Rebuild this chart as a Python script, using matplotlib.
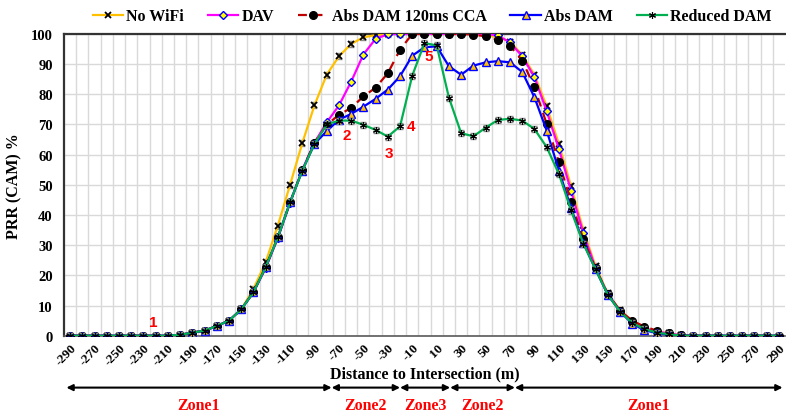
import numpy as np
import matplotlib.pyplot as plt
from matplotlib.ticker import FixedLocator

plt.rcParams['font.family'] = ['Liberation Serif', 'DejaVu Serif']

dist = list(range(-290, 300, 10))

tail_left = [0, 0, 0, 0, 0, 0, 0, 0, 0, 0.3, 1.0, 1.7, 3.2, 5.0, 8.7]

no_wifi = tail_left + [15.5, 24.3, 36.5, 50.0, 63.8, 76.4, 86.5, 92.6, 96.7, 98.9, 99.6,
                       100, 100, 100, 100, 100, 100, 100, 100, 99.5, 99.0, 97.5, 93.0,
                       86.5, 76.0, 63.5, 49.5, 35.0, 23.0, 14.0, 8.5, 4.5, 2.5, 1.3, 0.8,
                       0.1, 0, 0, 0, 0, 0, 0, 0, 0]
dav = tail_left + [14.4, 22.3, 32.4, 44.0, 55.0, 64.0, 70.7, 76.3, 84.2, 93.2, 98.4,
                   99.9, 100, 100, 100, 100, 100, 100, 100, 100, 99.5, 97.2, 92.6,
                   85.7, 74.4, 61.9, 47.9, 33.9, 22.3, 13.8, 8.3, 4.4, 2.5, 1.3, 0.8,
                   0.1, 0, 0, 0, 0, 0, 0, 0, 0]
abs_cca = tail_left + [14.4, 22.7, 32.6, 44.2, 55.0, 64.0, 69.9, 73.2, 75.5, 79.3, 82.2,
                       87.0, 94.8, 100, 100, 100, 100, 100, 99.8, 99.2, 98.1, 96.1, 91.2,
                       82.3, 70.2, 57.5, 44.4, 32.0, 22.3, 13.8, 8.3, 5.0, 3.0, 1.7, 0.8,
                       0.1, 0, 0, 0, 0, 0, 0, 0, 0]
abs_dam = tail_left + [14.4, 22.7, 32.6, 44.2, 54.7, 63.6, 67.8, 71.6, 73.5, 75.9, 78.5,
                       81.6, 86.0, 92.8, 95.6, 95.9, 89.3, 86.5, 89.5, 90.6, 91.0, 90.6, 87.4,
                       79.0, 68.0, 54.7, 42.3, 30.7, 22.0, 13.6, 8.0, 4.0, 1.8, 0.9, 0.3,
                       0, 0, 0, 0, 0, 0, 0, 0, 0]
reduced = tail_left + [14.4, 22.7, 32.6, 44.2, 54.7, 63.6, 70.0, 71.3, 71.3, 69.9, 68.2,
                       66.0, 69.4, 86.2, 97.0, 96.2, 78.9, 67.1, 66.1, 68.9, 71.5, 71.9, 71.3,
                       68.5, 62.5, 53.6, 41.5, 30.5, 22.0, 13.6, 8.0, 4.2, 2.2, 1.0, 0.5,
                       0, 0, 0, 0, 0, 0, 0, 0, 0]
err = 1.0

zones = [('Zone1', -293, -76), ('Zone2', -76, -20), ('Zone3', -20, 21),
         ('Zone2', 21, 74), ('Zone1', 74, 293)]
notes = [('1', -222, 4.4), ('2', -64, 66.5), ('3', -29, 60.5), ('4', -11, 69.6), ('5', 3.5, 92.6)]

fig = plt.figure(figsize=(7.86, 4.14), dpi=100)
ax = fig.add_axes([0.0814, 0.1867, 0.9173, 0.7288])

ebar = dict(fmt='none', ecolor='#8c8c8c', elinewidth=0.8, capsize=2)
ax.errorbar(dist, no_wifi, yerr=err, zorder=2.5, **ebar)
ax.errorbar(dist, reduced, yerr=err, zorder=6.5, **ebar)

h1, = ax.plot(dist, no_wifi, color='#FFC000', lw=1.6, marker='x', ms=5,
              mec='black', mew=1.3, label='No WiFi', zorder=3)
h2, = ax.plot(dist, dav, color='#FF00FF', lw=1.6, marker='D', ms=4.5, mfc='#FFFF00',
              mec='#0000FF', mew=1.0, label='DAV', zorder=4)
h3, = ax.plot(dist, abs_cca, color='#C00000', lw=1.6, ls=(0, (4, 3)), marker='o', ms=5.5,
              mfc='black', mec='black', label='Abs DAM 120ms CCA', zorder=5)
h4, = ax.plot(dist, abs_dam, color='#0000FF', lw=1.6, marker='^', ms=5.5, mfc='#FFC000',
              mec='#0000FF', mew=1.0, label='Abs DAM', zorder=6)
h5, = ax.plot(dist, reduced, color='#00B050', lw=1.6, marker=(6, 2, 0), ms=5,
              mec='black', mew=0.8, label='Reduced DAM', zorder=7)

ax.set_xlim(-295, 295)
ax.set_ylim(0, 100)
ax.set_yticks(range(0, 101, 10))
ax.set_xticks(range(-290, 300, 20))
ax.xaxis.set_minor_locator(FixedLocator(np.arange(-285, 295, 10)))
ax.grid(True, which='minor', axis='x', color='#d9d9d9', lw=1)
ax.grid(True, which='major', axis='y', color='#d9d9d9', lw=1)
ax.set_axisbelow(True)
ax.tick_params(length=0, which='both')
for t in ax.get_yticklabels():
    t.set_fontweight('bold')
    t.set_fontsize(10.5)
ax.set_xticklabels([str(v) for v in range(-290, 300, 20)], rotation=45, ha='right',
                   va='top', rotation_mode='anchor', fontsize=9.5, fontweight='bold')
ax.tick_params(axis='x', pad=4)
ax.tick_params(axis='y', pad=8)

for s in ['top', 'left']:
    ax.spines[s].set_color('#333333')
    ax.spines[s].set_linewidth(1.6)
ax.spines['bottom'].set_color('#595959')
ax.spines['bottom'].set_linewidth(1.2)
ax.spines['right'].set_visible(False)

ax.set_ylabel('PRR (CAM) %', fontsize=11.5, fontweight='bold', labelpad=6)
ax.text(0.5, -0.125, 'Distance to Intersection (m)', transform=ax.transAxes,
        ha='center', va='center', fontsize=11.5, fontweight='bold')

tr = ax.get_xaxis_transform()
for name, x0, x1 in zones:
    ax.annotate('', xy=(x0, -0.172), xytext=(x1, -0.172), xycoords=tr, textcoords=tr,
                arrowprops=dict(arrowstyle='<|-|>', color='black', lw=1.5,
                                mutation_scale=9, shrinkA=0, shrinkB=0))
    ax.text((x0 + x1) / 2, -0.23, name, transform=tr, ha='center', va='center',
            color='red', fontsize=11.5, fontweight='bold')

for txt, x, y in notes:
    ax.text(x, y, txt, color='red', fontsize=11, fontweight='bold',
            family='Liberation Sans', ha='center', va='center', zorder=10)

fig.legend(handles=[h1, h2, h3, h4, h5], loc='center', bbox_to_anchor=(0.55, 0.958),
           ncol=5, frameon=False, prop={'weight': 'bold', 'size': 11.5},
           handlelength=1.9, handletextpad=0.2, columnspacing=1.5)

fig.savefig('out.png', dpi=100)
